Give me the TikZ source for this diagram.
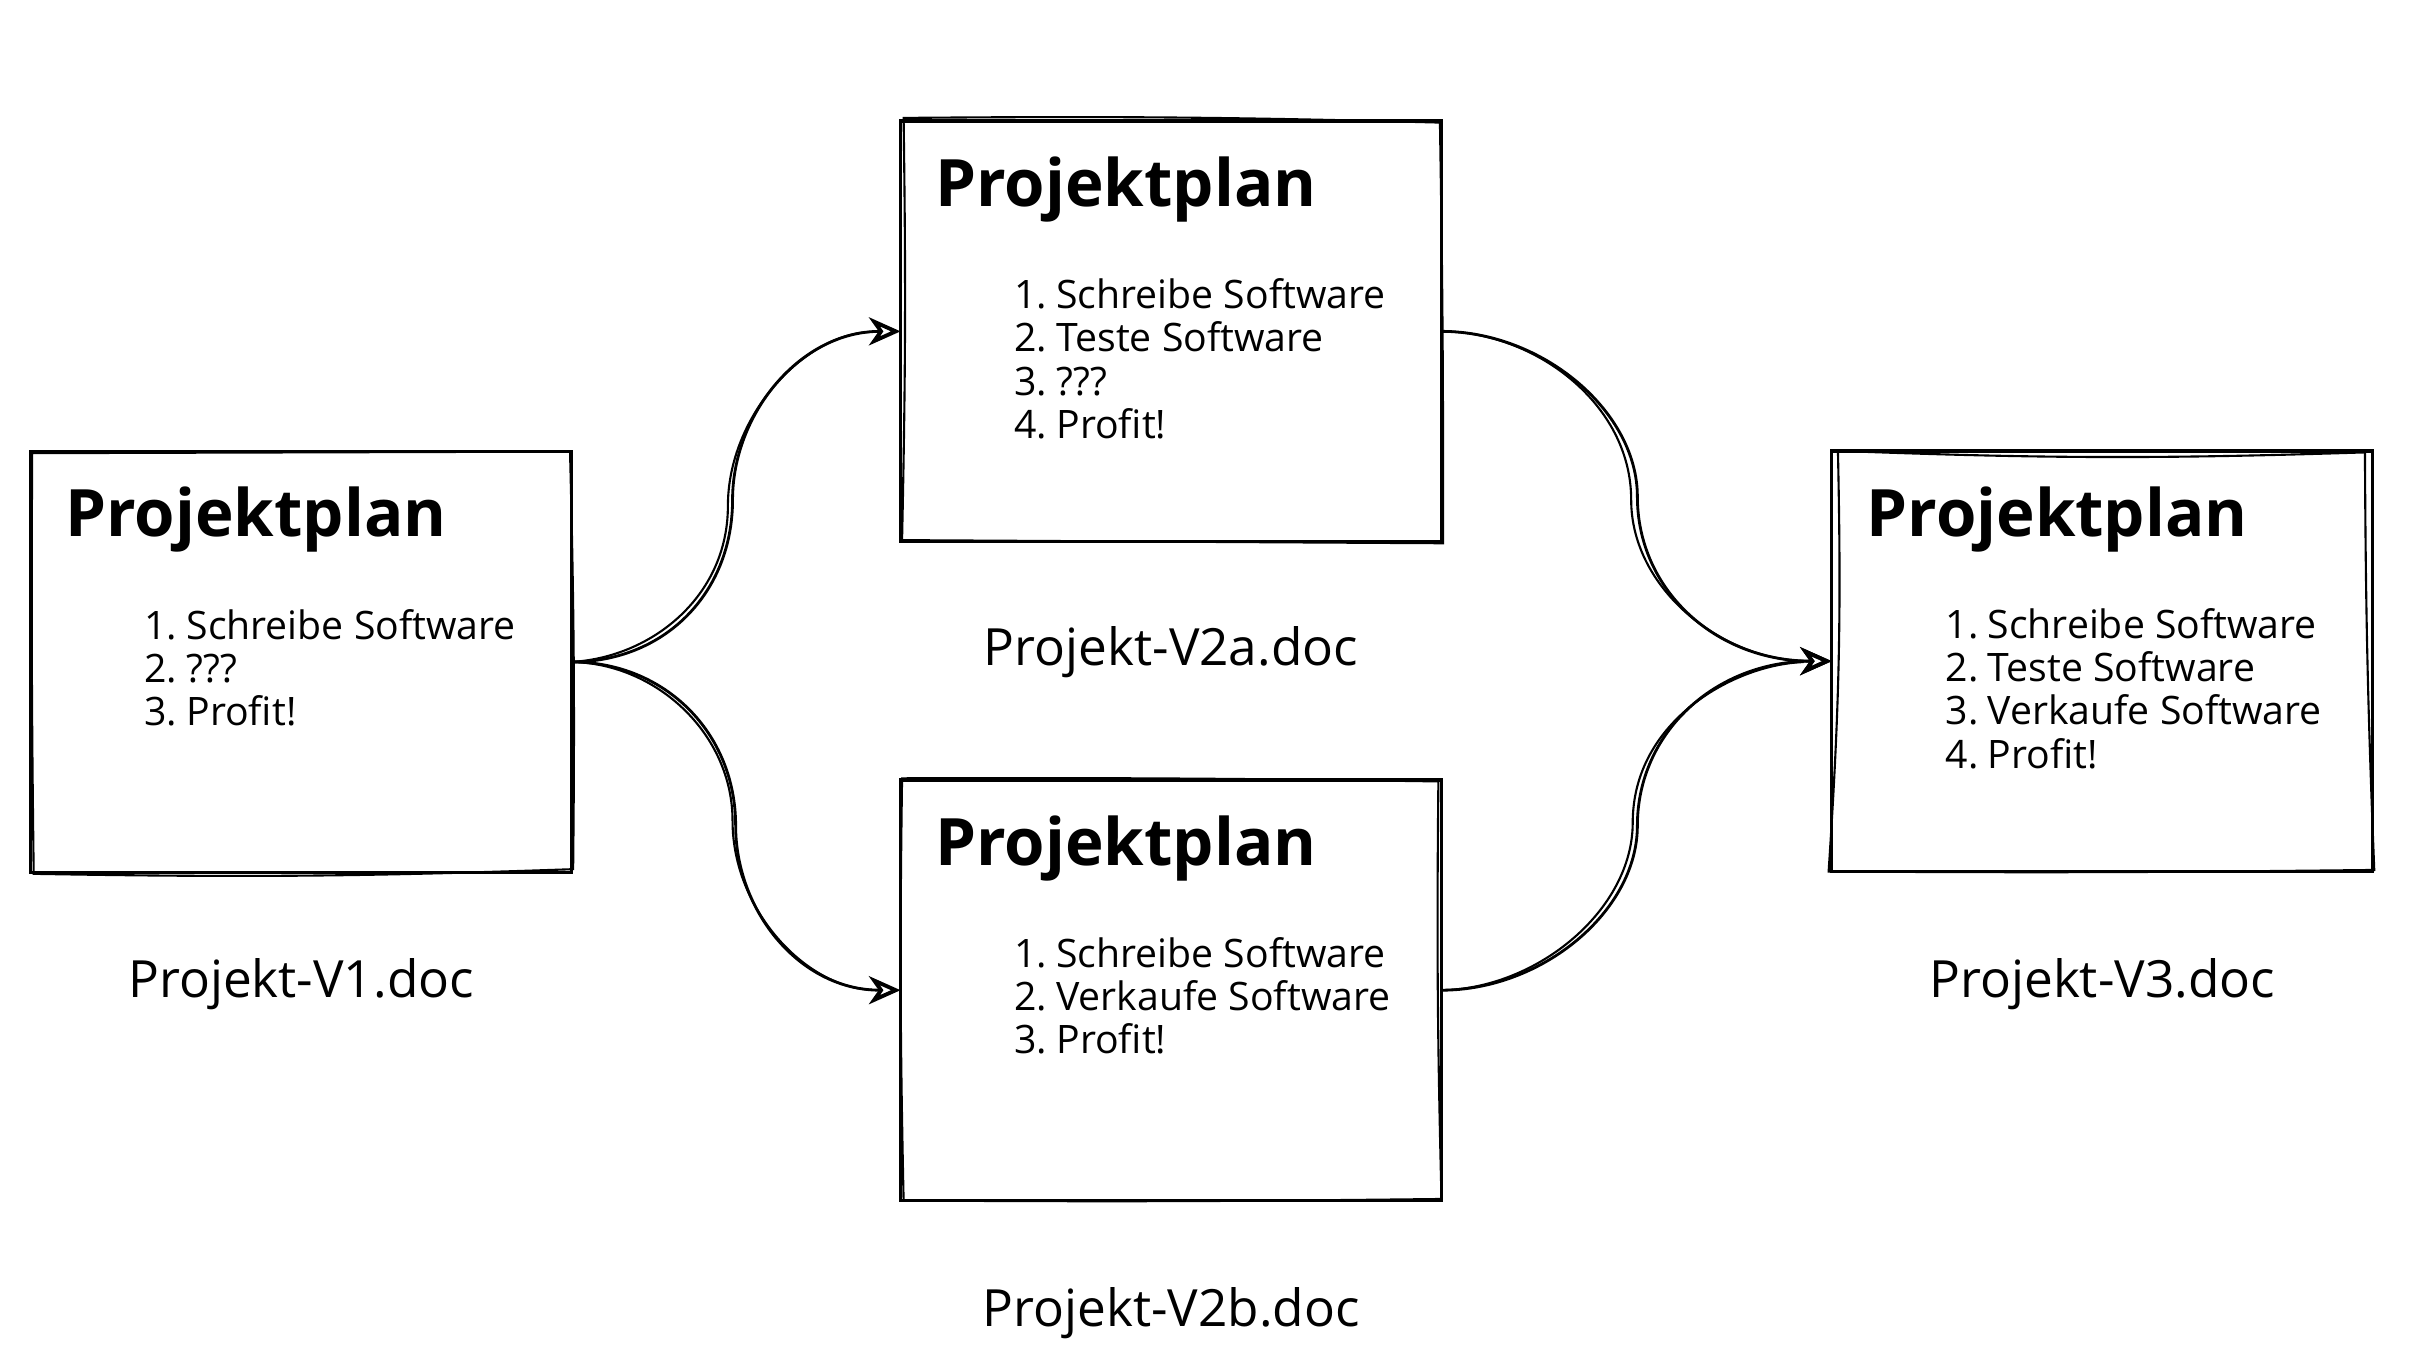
\documentclass[tikz,border=0pt]{standalone}
\usepackage{fontspec}
\setmainfont{Open Sans}
\usetikzlibrary{arrows.meta,calc}
\begin{document}
\begin{tikzpicture}[x=0.01552cm,y=-0.01552cm,
  box/.style={draw, line width=1pt, minimum width=5.409cm, minimum height=4.206cm, inner sep=0pt, outer sep=0pt},
  sk/.style={line width=0.6pt},
  conn/.style={line width=0.8pt, -{Stealth[open, length=9pt, width=8pt, inset=2.8pt, line width=1.1pt]}},
  conntwo/.style={line width=0.6pt, shorten >=8pt},
  ttl/.style={font=\fontsize{18.6}{20}\selectfont\bfseries, anchor=base west, inner sep=0pt},
  num/.style={font=\fontsize{11.15}{13}\selectfont, anchor=base east, inner sep=0pt},
  itm/.style={font=\fontsize{11.15}{13}\selectfont, anchor=base west, inner sep=0pt},
  lbl/.style={font=\fontsize{14.6}{16}\selectfont, anchor=base, inner sep=0pt}]
\fill[white] (0,0) rectangle (1567,871.1);
\useasboundingbox (0,0) rectangle (1567,871.1);

% boxes
\node[box] (b1) at (194,426.5) {};
\node[box] (b2a) at (754.5,213.5) {};
\node[box] (b2b) at (754.5,638) {};
\node[box] (b3) at (1354.5,426) {};

% sketchy second strokes
\draw[sk] ([shift={(1,1)}]b1.north west) -- ([shift={(-1,0)}]b1.north east) to[bend left=1] ([shift={(1,-2)}]b1.south east) to[bend left=1.5] ([shift={(2,1)}]b1.south west) to[bend left=0.5] cycle;
\draw[sk] ([shift={(2,-2)}]b2a.north west) to[bend left=1] ([shift={(-1,1)}]b2a.north east) to[bend left=0.5] ([shift={(1,1)}]b2a.south east) -- ([shift={(1,-1)}]b2a.south west) to[bend right=1] cycle;
\draw[sk] ([shift={(1,-1)}]b2b.north west) to[bend left=0.5] ([shift={(-2,1)}]b2b.north east) to[bend right=1] ([shift={(0,-1)}]b2b.south east) to[bend left=0.5] ([shift={(2,0)}]b2b.south west) to[bend left=1] cycle;
\draw[sk] ([shift={(4,0)}]b3.north west) to[bend right=2] ([shift={(-5,1)}]b3.north east) to[bend right=1] ([shift={(1,-1)}]b3.south east) to[bend left=0.5] ([shift={(-2,0)}]b3.south west) to[bend right=2.5] cycle;

% contents
\node[ttl] (b1t) at ($(b1.north west)+(22,55)$) {Projektplan};
\foreach \t [count=\i] in {Schreibe Software,???,Profit!} {
  \node[num] (b1n\i) at ($(b1.north west)+(95,{121+27.8*(\i-1)})$) {\i.};
  \node[itm] (b1s\i) at ($(b1.north west)+(100,{121+27.8*(\i-1)})$) {\t};
}
\node[ttl] (b2at) at ($(b2a.north west)+(22,55)$) {Projektplan};
\foreach \t [count=\i] in {Schreibe Software,Teste Software,???,Profit!} {
  \node[num] (b2an\i) at ($(b2a.north west)+(95,{121+27.8*(\i-1)})$) {\i.};
  \node[itm] (b2as\i) at ($(b2a.north west)+(100,{121+27.8*(\i-1)})$) {\t};
}
\node[ttl] (b2bt) at ($(b2b.north west)+(22,55)$) {Projektplan};
\foreach \t [count=\i] in {Schreibe Software,Verkaufe Software,Profit!} {
  \node[num] (b2bn\i) at ($(b2b.north west)+(95,{121+27.8*(\i-1)})$) {\i.};
  \node[itm] (b2bs\i) at ($(b2b.north west)+(100,{121+27.8*(\i-1)})$) {\t};
}
\node[ttl] (b3t) at ($(b3.north west)+(22,55)$) {Projektplan};
\foreach \t [count=\i] in {Schreibe Software,Teste Software,Verkaufe Software,Profit!} {
  \node[num] (b3n\i) at ($(b3.north west)+(95,{121+27.8*(\i-1)})$) {\i.};
  \node[itm] (b3s\i) at ($(b3.north west)+(100,{121+27.8*(\i-1)})$) {\t};
}

% labels
\node[lbl] (l1) at ($(b1.south)+(0,81)$) {Projekt-V1.doc};
\node[lbl] (l2a) at ($(b2a.south)+(0,80)$) {Projekt-V2a.doc};
\node[lbl] (l2b) at ($(b2b.south)+(0,81)$) {Projekt-V2b.doc};
\node[lbl] (l3) at ($(b3.south)+(0,81)$) {Projekt-V3.doc};

% connectors
\coordinate (m1) at (472,322);
\coordinate (m2) at (474,532);
\coordinate (m3) at (1055,320);
\coordinate (m4) at (1055,532);

\draw[conn] (b1.east) .. controls +(60,0) and +(0,60) .. (m1) .. controls +(0,-55) and +(-65,0) .. (b2a.west);
\draw[conntwo] (b1.east) .. controls +(52,-3) and +(0,58) .. ([shift={(-3,4)}]m1) .. controls +(0,-58) and +(-62,1) .. (b2a.west);

\draw[conn] (b1.east) .. controls +(60,0) and +(0,-60) .. (m2) .. controls +(0,55) and +(-65,0) .. (b2b.west);
\draw[conntwo] (b1.east) .. controls +(55,1) and +(0,-56) .. ([shift={(-2,-3)}]m2) .. controls +(0,58) and +(-60,-1) .. (b2b.west);

\draw[conn] (b2a.east) .. controls +(65,0) and +(0,-55) .. (m3) .. controls +(0,60) and +(-75,0) .. (b3.west);
\draw[conntwo] (b2a.east) .. controls +(60,0) and +(0,-62) .. ([shift={(-4,2)}]m3) .. controls +(0,58) and +(-70,-1) .. (b3.west);

\draw[conn] (b2b.east) .. controls +(65,0) and +(0,55) .. (m4) .. controls +(0,-60) and +(-75,0) .. (b3.west);
\draw[conntwo] (b2b.east) .. controls +(62,-1) and +(0,56) .. ([shift={(-3,-2)}]m4) .. controls +(0,-66) and +(-62,2) .. (b3.west);
\end{tikzpicture}
\end{document}
